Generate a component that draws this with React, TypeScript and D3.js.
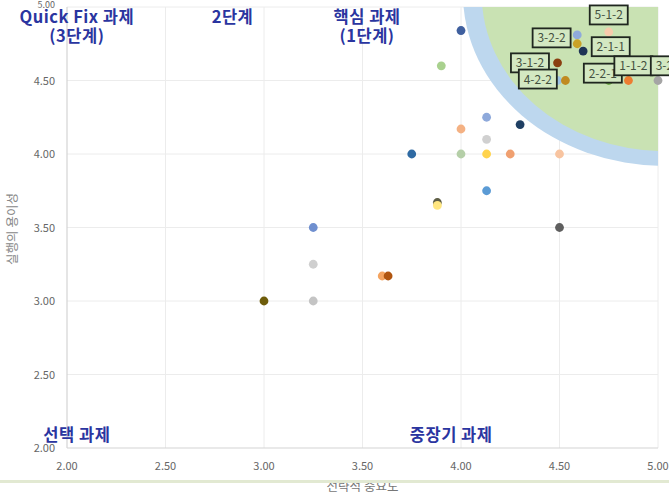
import React from "react";
import * as d3 from "d3";

const W = 669;
const H = 494;

const xTicks = [2.0, 2.5, 3.0, 3.5, 4.0, 4.5, 5.0];
const yTicks = [2.0, 2.5, 3.0, 3.5, 4.0, 4.5, 5.0];

// scatter points: strategic importance (x), ease of execution (y), colour
const pointX = [4.0, 3.9, 4.13, 4.3, 4.0, 4.13, 4.0, 4.13, 4.25, 4.5, 3.75, 4.13, 3.88, 3.88, 4.5, 3.25, 3.25, 3.25, 3.0, 3.6, 3.63,
  4.75, 4.59, 4.59, 4.62, 4.49, 4.49, 4.53, 4.75, 4.8, 4.85, 5.0];
const pointY = [4.84, 4.6, 4.25, 4.2, 4.17, 4.1, 4.0, 4.0, 4.0, 4.0, 4.0, 3.75, 3.67, 3.65, 3.5, 3.5, 3.25, 3.0, 3.0, 3.17, 3.17,
  4.83, 4.81, 4.75, 4.7, 4.62, 4.5, 4.5, 4.5, 4.58, 4.5, 4.5];
const pointColor = ["#3f5f9e", "#a9d18e", "#8ea9db", "#1f3f63", "#f4b183", "#d0d0d0", "#b5cfa8", "#ffd34d", "#f0a070", "#f8c4a0", "#2f6aa3", "#5b9bd5", "#5e5e45", "#ffe680", "#5f5f5f", "#6f8fcf", "#cfcfcf", "#c4c4c4", "#6e5c0a", "#f4a460", "#b0550f",
  "#f8cbad", "#8faadc", "#c9a227", "#1f3556", "#8a3f10", "#9dc3e6", "#c08a20", "#70ad47", "#2f4f2f", "#ed7d31", "#a5a5a5"];

// task code labels (anchor in data units)
const labelText = ["5-1-2", "3-2-2", "2-1-1", "3-1-2", "4-2-2", "2-2-1", "1-1-2", "3-2-1"];
const labelX = [4.75, 4.46, 4.76, 4.35, 4.39, 4.72, 4.875, 5.06];
const labelY = [4.946, 4.79, 4.73, 4.62, 4.51, 4.55, 4.60, 4.60];

// quadrant titles
const quadLines = [["Quick Fix 과제", "(3단계)"], ["2단계"], ["핵심 과제", "(1단계)"], ["선택 과제"], ["중장기 과제"]];
const quadX = [2.05, 2.84, 3.523, 2.05, 3.95];
const quadY = [4.89, 4.89, 4.89, 2.045, 2.045];

// priority zone (ellipse in data units)
const zoneCenter = [5.03, 5.09];
const zoneOuter = [1.02, 1.17];
const zoneInner = [0.925, 1.07];

const FONT = "'Noto Sans CJK KR', 'Noto Sans', sans-serif";

export default function App() {
  const x = d3.scaleLinear().domain([2, 5]).range([67, 658]);
  const y = d3.scaleLinear().domain([2, 5]).range([448, 7]);
  const fmt = d3.format(".2f");
  const cx = x(zoneCenter[0]);
  const cy = y(zoneCenter[1]);
  const pxPerX = x(1) - x(0);
  const pxPerY = y(0) - y(1);

  const bw = 38;
  const bh = 19;

  return (
    <svg width={W} height={H} style={{ position: "absolute", left: 0, top: 0, background: "#fff" }} fontFamily={FONT}>
      <defs>
        <clipPath id="plot">
          <rect x={x(2)} y={y(5)} width={x(5) - x(2)} height={y(2) - y(5)} />
        </clipPath>
      </defs>
      {/* grid */}
      {xTicks.slice(1).map((t) => (
        <line key={"gx" + t} x1={x(t)} x2={x(t)} y1={y(5)} y2={y(2)} stroke="#ececec" strokeWidth={1} />
      ))}
      {yTicks.slice(1).map((t) => (
        <line key={"gy" + t} x1={x(2)} x2={x(5)} y1={y(t)} y2={y(t)} stroke="#ececec" strokeWidth={1} />
      ))}
      {/* zone */}
      <g clipPath="url(#plot)">
        <ellipse cx={cx} cy={cy} rx={zoneOuter[0] * pxPerX} ry={zoneOuter[1] * pxPerY} fill="#bdd7ee" />
        <ellipse cx={cx} cy={cy} rx={zoneInner[0] * pxPerX} ry={zoneInner[1] * pxPerY} fill="#c9e2b3" />
      </g>
      {/* axes */}
      <line x1={x(2)} x2={x(2)} y1={y(5)} y2={y(2)} stroke="#d4d4d4" strokeWidth={1.2} />
      <line x1={x(2)} x2={x(5)} y1={y(2)} y2={y(2)} stroke="#d4d4d4" strokeWidth={1.2} />
      {yTicks.map((t) => (
        <text key={"yt" + t} x={x(2) - 12} y={y(t) + (t === 5 ? 1 : 4)} fontSize={t === 5 ? 9 : 11} fill="#666" textAnchor="end">{fmt(t)}</text>
      ))}
      {xTicks.map((t) => (
        <text key={"xt" + t} x={x(t)} y={y(2) + 22} fontSize={11} fill="#666" textAnchor="middle">{fmt(t)}</text>
      ))}
      <text x={(x(2) + x(5)) / 2} y={491} fontSize={12.5} fill="#777" textAnchor="middle">전략적 중요도</text>
      <text transform={`translate(17, ${y(3.49)}) rotate(-90)`} fontSize={12.5} fill="#888" textAnchor="middle">실행의 용이성</text>
      {/* points */}
      {pointX.map((v, i) => (
        <circle key={"p" + i} cx={x(v)} cy={y(pointY[i])} r={4.4} fill={pointColor[i]} />
      ))}
      {/* labels */}
      {labelText.map((t, i) => (
        <g key={"l" + i}>
          <rect x={x(labelX[i]) - bw / 2} y={y(labelY[i]) - bh / 2} width={bw} height={bh} fill="#d3e8c2" stroke="#1f261f" strokeWidth={1.8} />
          <text x={x(labelX[i])} y={y(labelY[i]) + 4.5} fontSize={12} fill="#44503f" textAnchor="middle">{t}</text>
        </g>
      ))}
      {/* quadrant titles */}
      {quadLines.map((lines, i) => (
        <text key={"q" + i} x={x(quadX[i])} y={y(quadY[i])} fontSize={16.5} fontWeight={600} letterSpacing={0.5} fill="#2a35a0" textAnchor="middle">
          {lines.map((ln, j) => (
            <tspan key={j} x={x(quadX[i])} dy={j === 0 ? 0 : 19}>{ln}</tspan>
          ))}
        </text>
      ))}
      {/* bottom slide band */}
      <rect x={0} y={480} width={W} height={3} fill="#e2e9d2" />
    </svg>
  );
}
